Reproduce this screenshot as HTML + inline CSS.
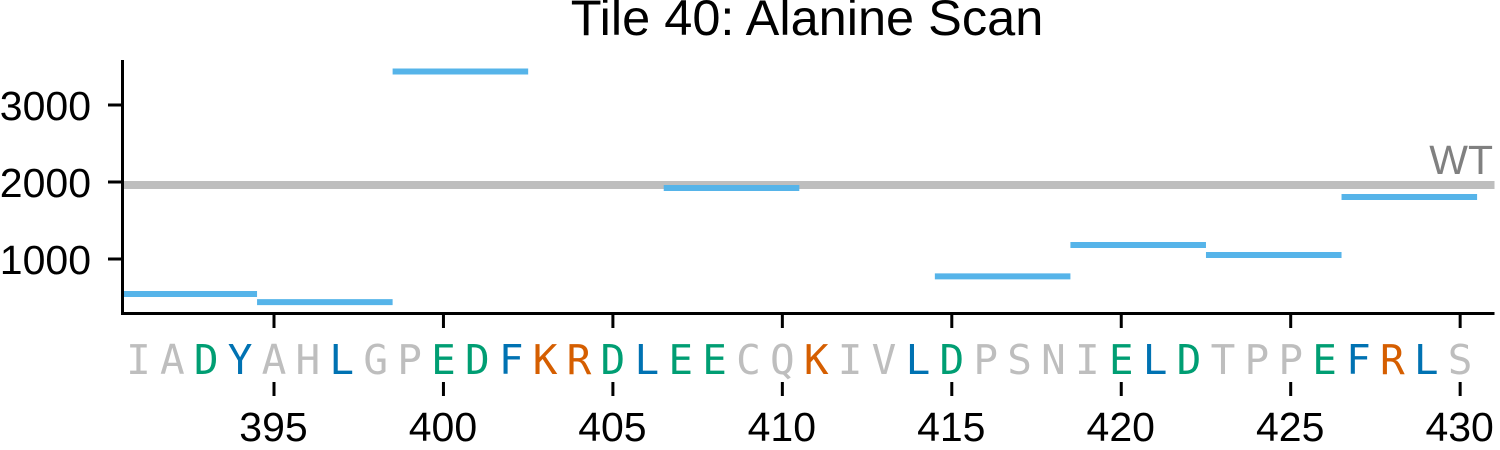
<!DOCTYPE html>
<html>
<head>
<meta charset="utf-8">
<style>
html,body{margin:0;padding:0;background:#fff;width:1500px;height:450px;overflow:hidden}
svg{display:block}
text{font-family:"Liberation Sans",sans-serif}
.res{font-family:"DejaVu Sans Mono","Liberation Mono",monospace;font-size:41px}
</style>
</head>
<body>
<svg id="chart" width="1500" height="450" viewBox="0 0 1500 450" xmlns="http://www.w3.org/2000/svg">
<text x="807" y="35" text-anchor="middle" font-size="50.5" fill="#000">Tile 40: Alanine Scan</text>
</svg>
<script>
const sequence = "IADYAHLGPEDFKRDLEECQKIVLDPSNIELDTPPEFRLS".split("");
const firstPosition = 391;
const tileStarts = [390.5, 394.5, 398.5, 406.5, 414.5, 418.5, 422.5, 426.5];
const tileEnds = [394.5, 398.5, 402.5, 410.5, 418.5, 422.5, 426.5, 430.5];
const tileValues = [545, 440, 3435, 1922, 775, 1182, 1052, 1805];
const wtValue = 1961;
const yTicks = [1000, 2000, 3000];
const xTicks = [395, 400, 405, 410, 415, 420, 425, 430];
const acidic = ["D", "E"];
const basic = ["K", "R"];
const hydrophobic = ["Y", "L", "F"];

const svg = document.getElementById("chart");
const NS = "http://www.w3.org/2000/svg";
const sx = v => 274 + (v - 395) * 33.89;
const sy = v => 259 - (v - 1000) * 0.077;
const plotLeft = 122.5, plotRight = 1494.5, plotBottom = 313.5, plotTop = 60;

function make(tag, attrs, text) {
  const el = document.createElementNS(NS, tag);
  for (const k in attrs) el.setAttribute(k, attrs[k]);
  if (text !== undefined) el.textContent = text;
  svg.appendChild(el);
  return el;
}
function residueColor(c) {
  if (acidic.includes(c)) return "#009E73";
  if (basic.includes(c)) return "#D55E00";
  if (hydrophobic.includes(c)) return "#0072B2";
  return "#BEBEBE";
}

// WT reference line
const wtLine = make("line", {x1: plotLeft, x2: plotRight, y1: sy(wtValue), y2: sy(wtValue), stroke: "#BEBEBE", "stroke-width": 8});


const wtLabel = make("text", {x: 1493, y: 174, "text-anchor": "end", "font-size": 41, fill: "#808080"}, "WT");



// Tile bars
tileValues.forEach((v, i) => {
  const seg = make("line", {x1: sx(tileStarts[i]), x2: sx(tileEnds[i]), y1: sy(v), y2: sy(v), stroke: "#56B4E9", "stroke-width": 6});
  
  
});

// Axes
const yAxis = make("line", {x1: plotLeft, x2: plotLeft, y1: plotTop, y2: plotBottom + 1.5, stroke: "#000", "stroke-width": 3});


const xAxis = make("line", {x1: plotLeft - 1.5, x2: plotRight, y1: plotBottom, y2: plotBottom, stroke: "#000", "stroke-width": 3});



// Y ticks
yTicks.forEach(t => {
  const tick = make("line", {x1: 108, x2: plotLeft, y1: sy(t), y2: sy(t), stroke: "#000", "stroke-width": 3});
  
  
  const label = make("text", {x: 91, y: sy(t) + 15, "text-anchor": "end", "font-size": 41, fill: "#000"}, String(t));
  
  
});

// X ticks (upper and lower)
xTicks.forEach(t => {
  const upper = make("line", {x1: sx(t), x2: sx(t), y1: plotBottom, y2: 328, stroke: "#000", "stroke-width": 3});
  
  
  const lower = make("line", {x1: sx(t), x2: sx(t), y1: 382, y2: 396, stroke: "#000", "stroke-width": 3});
  
  
  const label = make("text", {x: sx(t) - 0.5, y: 441, "text-anchor": "middle", "font-size": 41, fill: "#000"}, String(t));
  
  
});

// Sequence letters
sequence.forEach((c, i) => {
  const letter = make("text", {x: sx(firstPosition + i), y: 374, "text-anchor": "middle", "class": "res", fill: residueColor(c)}, c);
  
  
});
</script>
</body>
</html>
